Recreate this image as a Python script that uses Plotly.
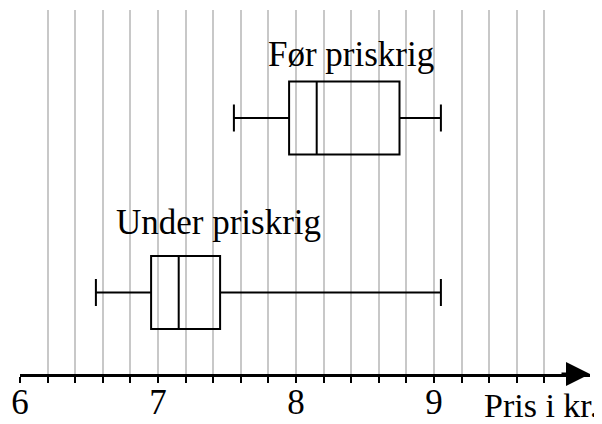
import plotly.graph_objects as go

# ---- data ----
groups = ["Under priskrig", "Før priskrig"]
group_pos = [0, 1]
lower_whisker = [6.55, 7.55]
q1_vals = [6.95, 7.95]
medians = [7.15, 8.15]
q3_vals = [7.45, 8.75]
upper_whisker = [9.05, 9.05]
label_x = [7.44, 8.40]
label_y = [0.402, 1.362]
major_ticks = [6, 7, 8, 9]
tick_labels = ["6", "7", "8", "9"]
minor_ticks = [6.0, 6.2, 6.4, 6.6, 6.8, 7.0, 7.2, 7.4, 7.6, 7.8,
               8.0, 8.2, 8.4, 8.6, 8.8, 9.0, 9.2, 9.4, 9.6, 9.8]
axis_title = "Pris i kr."

FONT = "Liberation Serif, Times New Roman, serif"

fig = go.Figure()
for g, p, lw, a, m, b, uw in zip(groups, group_pos, lower_whisker, q1_vals,
                                  medians, q3_vals, upper_whisker):
    fig.add_trace(go.Box(
        name=g, y=[p], q1=[a], median=[m], q3=[b],
        lowerfence=[lw], upperfence=[uw], orientation="h",
        width=0.418, whiskerwidth=0.37, boxpoints=False,
        line=dict(color="black", width=2),
        fillcolor="rgba(0,0,0,0)", showlegend=False, hoverinfo="skip",
    ))

for g, x, y in zip(groups, label_x, label_y):
    fig.add_annotation(x=x, y=y, xref="x", yref="y", text=g, showarrow=False,
                       xanchor="center", yanchor="middle",
                       font=dict(family=FONT, size=35, color="black"))

fig.add_annotation(x=1.0175, y=-0.03, xref="paper", yref="paper", text=axis_title,
                   showarrow=False, xanchor="right", yanchor="top",
                   font=dict(family=FONT, size=34, color="black"))

# arrow head at end of axis
fig.add_annotation(x=1.0, y=0, xref="paper", yref="paper", ax=-30, ay=0,
                   showarrow=True, arrowhead=2, arrowsize=1.6, arrowwidth=3,
                   arrowcolor="black", text="")

fig.update_layout(
    width=594, height=416,
    margin=dict(l=12, r=12, t=2, b=50),
    paper_bgcolor="white", plot_bgcolor="white",
    font=dict(family=FONT, color="black"),
    xaxis=dict(
        range=[6, 6 + 570 / 138], showline=True, linecolor="black", linewidth=3,
        tickmode="array", tickvals=major_ticks, ticktext=tick_labels,
        ticks="outside", ticklen=6, tickwidth=2, tickcolor="black",
        tickfont=dict(family=FONT, size=35, color="black"),
        ticklabelstandoff=-11,
        showgrid=False, zeroline=False,
        minor=dict(tickmode="array", tickvals=minor_ticks, ticks="outside",
                   ticklen=6, tickwidth=2, tickcolor="black",
                   showgrid=True, gridcolor="#c8c8c8", gridwidth=1.5),
        fixedrange=True,
    ),
    yaxis=dict(range=[-0.467, 1.619], showgrid=False, showticklabels=False,
               zeroline=False, showline=False, ticks="", fixedrange=True),
)

fig.write_html("out.html")
